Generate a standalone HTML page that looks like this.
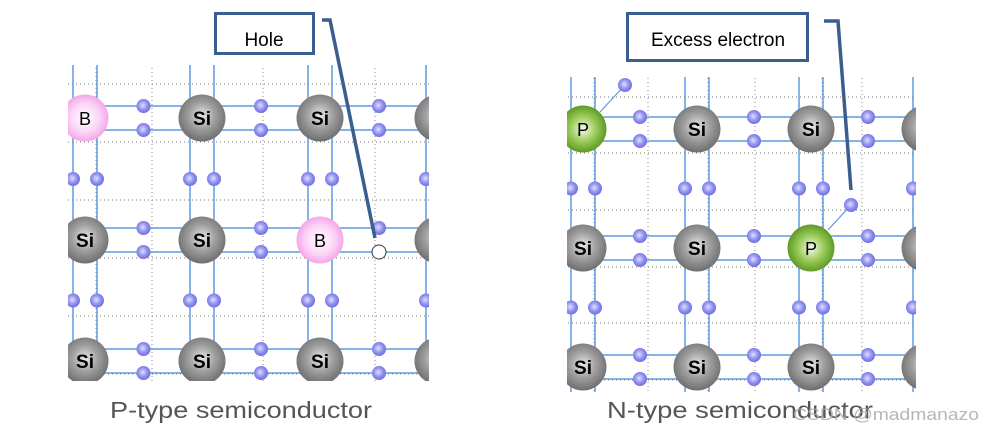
<!DOCTYPE html>
<html><head><meta charset="utf-8"><style>
html,body{margin:0;padding:0;background:#fff;width:994px;height:434px;overflow:hidden}
svg{display:block}
</style></head><body>
<svg id="s" width="994" height="434" viewBox="0 0 994 434" xmlns="http://www.w3.org/2000/svg" font-family="Liberation Sans, sans-serif">
<defs>
<radialGradient id="gSi" cx="50%" cy="45%" r="55%"><stop offset="0" stop-color="#e8e8e8"/><stop offset="0.5" stop-color="#a0a0a0"/><stop offset="1" stop-color="#6e6e6e"/></radialGradient>
<radialGradient id="gB" cx="50%" cy="50%" r="50%"><stop offset="0" stop-color="#fff"/><stop offset="0.6" stop-color="#fcd6f6"/><stop offset="1" stop-color="#f5a6ea"/></radialGradient>
<radialGradient id="gP" cx="50%" cy="50%" r="50%"><stop offset="0" stop-color="#f4faef"/><stop offset="0.55" stop-color="#9acb58"/><stop offset="1" stop-color="#5f9a25"/></radialGradient>
<radialGradient id="gE" cx="45%" cy="45%" r="55%"><stop offset="0" stop-color="#e0e0ff"/><stop offset="0.6" stop-color="#9090f0"/><stop offset="1" stop-color="#7070e0"/></radialGradient>
<clipPath id="c1"><rect x="68" y="65" width="361" height="316"/></clipPath>
<clipPath id="c2"><rect x="567" y="77" width="349" height="315"/></clipPath>
</defs>
<g id="L" clip-path="url(#c1)"></g>
<g id="R" clip-path="url(#c2)"></g>
<rect x="215.5" y="13.5" width="98" height="40" fill="#fff" stroke="#3a5f8f" stroke-width="3"/>
<text x="264" y="46" font-size="19" text-anchor="middle" fill="#000">Hole</text>
<polyline points="322,20 330,20 375,238" fill="none" stroke="#3a5f8f" stroke-width="3.5"/>
<rect x="627.5" y="13.5" width="180" height="47" fill="#fff" stroke="#3a5f8f" stroke-width="3"/>
<text x="718" y="46" font-size="19" text-anchor="middle" fill="#000">Excess electron</text>
<polyline points="824,21 838,21 851,190" fill="none" stroke="#3a5f8f" stroke-width="3.5"/>
<text x="110" y="418" font-size="23" fill="#555" textLength="262" lengthAdjust="spacingAndGlyphs">P-type semiconductor</text>
<text x="607" y="418" font-size="23" fill="#555" textLength="266" lengthAdjust="spacingAndGlyphs">N-type semiconductor</text>
<text x="793" y="420" font-size="17" fill="#aaa" opacity="0.85" textLength="186" lengthAdjust="spacingAndGlyphs">CSDN @madmanazo</text>
</svg>
<script>
var NS="http://www.w3.org/2000/svg";
function el(g,t,a,txt){var e=document.createElementNS(NS,t);for(var k in a)e.setAttribute(k,a[k]);if(txt)e.textContent=txt;g.appendChild(e);return e;}
function panel(id,cols,rows,y0,y1,x0,x1,dopants,hDots,vDots,extra,hole){
 var g=document.getElementById(id);
 hDots.forEach(function(y){el(g,"line",{x1:x0,y1:y,x2:x1,y2:y,stroke:"#777","stroke-width":1,"stroke-dasharray":"1 3"});});
 vDots.forEach(function(x){el(g,"line",{x1:x,y1:y0,x2:x,y2:y1,stroke:"#888","stroke-width":1,"stroke-dasharray":"1 3"});});
 cols.forEach(function(cx){[-12,12].forEach(function(d){el(g,"line",{x1:cx+d,y1:y0,x2:cx+d,y2:y1,stroke:"#5b9be0","stroke-width":1.5});});});
 rows.forEach(function(cy){[-12,12].forEach(function(d){el(g,"line",{x1:x0,y1:cy+d,x2:x1,y2:cy+d,stroke:"#5b9be0","stroke-width":1.5});});});
 extra.forEach(function(e){el(g,"line",{x1:e[0],y1:e[1],x2:e[2],y2:e[3],stroke:"#5b9be0","stroke-width":1.2});});
 for(var i=0;i<cols.length-1;i++){var mx=(cols[i]+cols[i+1])/2;rows.forEach(function(cy){[-12,12].forEach(function(d){
   if(hole&&Math.abs(mx-hole[0])<3&&Math.abs(cy+d-hole[1])<3){el(g,"circle",{cx:mx,cy:cy+d,r:7,fill:"#fff",stroke:"#333","stroke-width":1});}
   else el(g,"circle",{cx:mx,cy:cy+d,r:7,fill:"url(#gE)"});});});}
 for(var j=0;j<rows.length-1;j++){var my=(rows[j]+rows[j+1])/2;cols.forEach(function(cx){[-12,12].forEach(function(d){el(g,"circle",{cx:cx+d,cy:my,r:7,fill:"url(#gE)"});});});}
 extra.forEach(function(e){el(g,"circle",{cx:e[2],cy:e[3],r:7,fill:"url(#gE)"});});
 rows.forEach(function(cy,ri){cols.forEach(function(cx,ci){
   var d=dopants[ri+","+ci];
   var f=d=="B"?"url(#gB)":d=="P"?"url(#gP)":"url(#gSi)";
   el(g,"circle",{cx:cx,cy:cy,r:23.5,fill:f});
   el(g,"text",{x:cx,y:cy+7,"text-anchor":"middle","font-size":d?18:19,"font-weight":d?"normal":"bold",fill:"#000"},d||"Si");
 });});
}
panel("L",[85,202,320,438],[118,240,361],60,385,60,430,{"0,0":"B","1,2":"B"},[84,142,200,258,316,374],[96,152,214,263,332,375],[],[379,252]);
panel("R",[583,697,811,925],[129,248,367],70,395,560,920,{"0,0":"P","1,2":"P"},[97,153,210,267,323,380],[594,648,708,755,822,862],[[600,112,625,85],[828,230,851,205]],null);
</script>
</body></html>
